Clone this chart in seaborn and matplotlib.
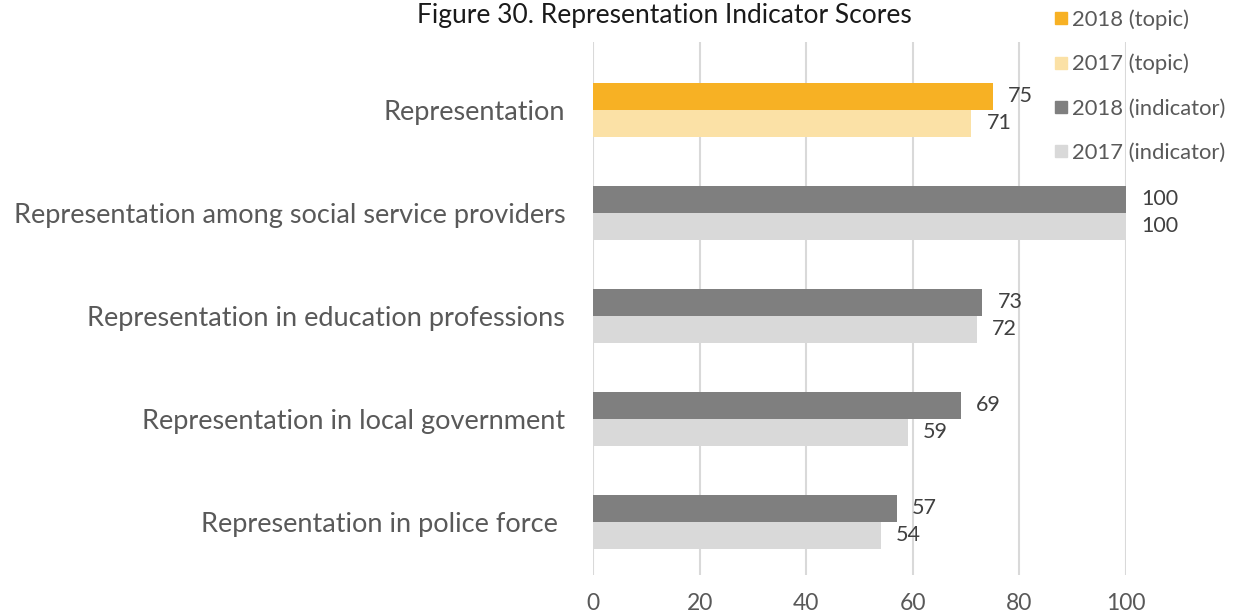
import matplotlib
matplotlib.use("Agg")
import matplotlib.pyplot as plt
from matplotlib.lines import Line2D
import seaborn as sns
import pandas as pd

categories = [
    "Representation",
    "Representation among social service providers",
    "Representation in education professions",
    "Representation in local government",
    "Representation in police force ",
]
scores_2018 = [75, 100, 73, 69, 57]
scores_2017 = [71, 100, 72, 59, 54]
legend_labels = ["2018 (topic)", "2017 (topic)", "2018 (indicator)", "2017 (indicator)"]
x_ticks = [0, 20, 40, 60, 80, 100]

topic_2018 = "#F7B124"
topic_2017 = "#FBE1A6"
ind_2018 = "#7F7F7F"
ind_2017 = "#D9D9D9"
text_grey = "#595959"

sns.set_theme(style="white")
plt.rcParams["font.family"] = ["Lato", "DejaVu Sans"]

df = pd.DataFrame({
    "category": categories * 2,
    "score": scores_2018 + scores_2017,
    "year": ["2018"] * len(categories) + ["2017"] * len(categories),
})

fig = plt.figure(figsize=(12.37, 6.16), dpi=100)
ax = fig.add_axes([0.4794, 0.0666, 0.4309, 0.8654])

sns.barplot(data=df, y="category", x="score", hue="year", orient="h",
            hue_order=["2018", "2017"], palette=[ind_2018, ind_2017],
            dodge=True, width=0.524, ax=ax, legend=False, errorbar=None,
            saturation=1, linewidth=0)

# first group is the topic score, drawn in orange tones
ax.containers[0].patches[0].set_facecolor(topic_2018)
ax.containers[1].patches[0].set_facecolor(topic_2017)

for cont in ax.containers:
    ax.bar_label(cont, fmt="%d", padding=11, fontsize=15.5, color="#404040")

ax.set_xlim(0, 100)
ax.set_ylim(4.515, -0.66)
ax.set_xticks(x_ticks)
ax.set_xticklabels([str(t) for t in x_ticks], fontsize=16.5, color=text_grey)
ax.tick_params(axis="x", length=0, pad=13)
ax.tick_params(axis="y", length=0, pad=20, labelsize=19.5, labelcolor=text_grey)
ax.set_xlabel("")
ax.set_ylabel("")
ax.xaxis.grid(True, color="#D9D9D9", linewidth=1.5)
ax.set_axisbelow(True)
for s in ax.spines.values():
    s.set_visible(False)

handles = [Line2D([0], [0], marker="s", linestyle="none", markersize=8,
                  markerfacecolor=c, markeredgecolor=c)
           for c in [topic_2018, topic_2017, ind_2018, ind_2017]]
fig.legend(handles, legend_labels, loc="upper left",
           bbox_to_anchor=(1052 / 1237, 1 - 9 / 616), frameon=False,
           borderpad=0, borderaxespad=0,
           fontsize=15.8, labelcolor=text_grey, handletextpad=0.1,
           labelspacing=1.1, handlelength=0.8)

fig.text(664 / 1237, 1 - 15 / 616, "Figure 30. Representation Indicator Scores",
         ha="center", va="center", fontsize=19, color="#1a1a1a")

fig.savefig("out.png", dpi=100)
